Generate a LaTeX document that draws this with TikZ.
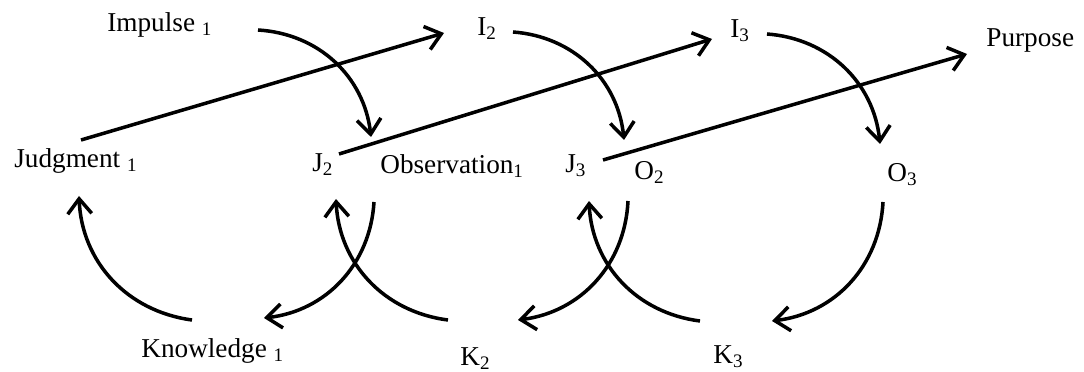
\documentclass[tikz,border=0pt]{standalone}
\usepackage{fontspec}
\setmainfont{Liberation Serif}
\usetikzlibrary{arrows.meta, positioning, calc}

\begin{document}
\begin{tikzpicture}[x=0.2mm, y=-0.2mm,
    every node/.style={inner sep=0pt, anchor=base west, font=\fontsize{15.5}{18}\selectfont},
    link/.style={line width=2pt, -{Straight Barb[length=3mm, width=4.8mm]}}]
    \useasboundingbox (0,0) rectangle (1084,372);
    \node (imp) at (107,32) {Impulse \textsubscript{1}};
    \node (i2) at (477,36) {I\textsubscript{2}};
    \node (i3) at (730,38) {I\textsubscript{3}};
    \node (pur) at (986,47) {Purpose};
    \node (jud) at (14,168) {Judgment \textsubscript{1}};
    \node (j2) at (312,172) {J\textsubscript{2}};
    \node (obs) at (380,174) {Observation\textsubscript{1}};
    \node (j3) at (565,173) {J\textsubscript{3}};
    \node (o2) at (634,180) {O\textsubscript{2}};
    \node (o3) at (887,182) {O\textsubscript{3}};
    \node (kn) at (141,358) {Knowledge \textsubscript{1}};
    \node (k2) at (460,366) {K\textsubscript{2}};
    \node (k3) at (713,364) {K\textsubscript{3}};

    \draw[link] ([shift={(151,-2)}]imp.base west) to[bend left=40] ([shift={(-9,-37)}]obs.base west);
    \draw[link] ([shift={(-6,28)}]obs.base west) to[bend left=40] ([shift={(123,-40)}]kn.base west);
    \draw[link] ([shift={(51,-38)}]kn.base west) to[bend left=40] ([shift={(65,28)}]jud.base west);
    \draw[link] ([shift={(67,-28)}]jud.base west) -- ([shift={(-33,-3)}]i2.base west);
    \draw[link] ([shift={(36,-4)}]i2.base west) to[bend left=40] ([shift={(-10,-40)}]o2.base west);
    \draw[link] ([shift={(-6,21)}]o2.base west) to[bend left=40] ([shift={(58,-46)}]k2.base west);
    \draw[link] ([shift={(-12,-46)}]k2.base west) to[bend left=40] ([shift={(24,27)}]j2.base west);
    \draw[link] ([shift={(27,-18)}]j2.base west) -- ([shift={(-18,1)}]i3.base west);
    \draw[link] ([shift={(37,-4)}]i3.base west) to[bend left=40] ([shift={(-7,-38)}]o3.base west);
    \draw[link] ([shift={(-4,20)}]o3.base west) to[bend left=40] ([shift={(59,-43)}]k3.base west);
    \draw[link] ([shift={(-13,-43)}]k3.base west) to[bend left=40] ([shift={(24,28)}]j3.base west);
    \draw[link] ([shift={(38,-13)}]j3.base west) -- ([shift={(-19,7)}]pur.base west);
\end{tikzpicture}
\end{document}
